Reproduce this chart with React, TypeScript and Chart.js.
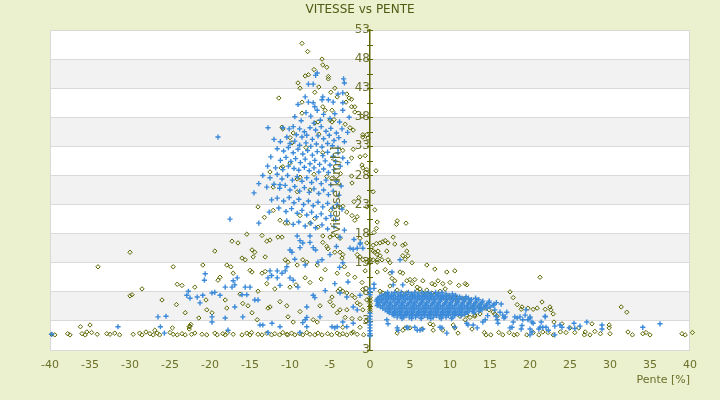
import { useEffect, useRef } from 'react';
import { Chart, registerables } from 'chart.js';

Chart.register(...registerables);

type P = [number, number];

// y tick labels, bottom to top (the bottom one reads "3" in the original too)
const yTickLabels = ['3', '3', '8', '13', '18', '23', '28', '33', '38', '43', '48', '53'];

// olive series: "low" speeds along the floor
const oliveFloor: P[] = [
  [-45.6, 0.7], [-43.5, 0.8], [-42.3, 0.7], [-42.1, 0.9], [-41.0, 0.6], [-40.9, 0.8], [-39.8, 0.7], [-39.4, 0.6],
  [-37.8, 0.8], [-37.5, 0.6], [-36.0, 0.8], [-35.6, 0.6], [-34.8, 1.0], [-34.1, 0.7], [-32.9, 0.8], [-32.5, 0.7],
  [-31.9, 0.9], [-31.3, 0.6], [-29.6, 0.7], [-28.8, 0.9], [-28.5, 0.6], [-27.5, 0.8], [-27.1, 0.6], [-26.6, 0.9],
  [-26.3, 0.6], [-25.0, 1.0], [-24.6, 0.7], [-24.1, 0.6], [-23.5, 0.8], [-23.1, 0.6], [-22.3, 0.7], [-21.9, 0.9],
  [-21.0, 0.7], [-20.4, 0.6], [-19.4, 0.9], [-19.1, 0.6], [-18.4, 0.8], [-18.1, 0.6], [-17.8, 1.0], [-17.1, 0.7],
  [-16.0, 0.6], [-15.4, 0.9], [-15.0, 0.6], [-14.8, 1.0], [-14.0, 0.7], [-13.5, 0.6], [-12.9, 0.9], [-12.3, 0.6],
  [-11.9, 0.8], [-11.3, 0.6], [-10.9, 1.0], [-10.4, 0.7], [-10.3, 0.6], [-9.8, 0.9], [-9.4, 0.6], [-8.8, 0.8],
  [-8.4, 0.6], [-7.9, 1.0], [-7.5, 0.7], [-6.9, 0.6], [-6.5, 0.9], [-6.0, 0.6], [-5.3, 0.8], [-4.8, 0.6],
  [-4.1, 0.9], [-3.8, 0.6], [-3.4, 0.8], [-2.9, 0.6], [-2.3, 0.9], [-1.6, 0.7], [-0.8, 0.6],
  [14.3, 1.0], [14.5, 0.6], [15.1, 0.6], [16.1, 1.0], [16.6, 0.6], [17.4, 1.0], [18.0, 0.6], [18.4, 0.7],
  [19.6, 0.6], [20.4, 1.0], [21.1, 0.6], [22.9, 0.6], [23.8, 1.1], [24.5, 1.0], [25.6, 1.0], [26.8, 0.6],
  [27.5, 0.6], [28.8, 0.8], [30.0, 0.8], [32.8, 0.6], [34.1, 0.8], [34.5, 1.0], [35.0, 0.6], [39.0, 0.8],
  [39.4, 0.6], [40.3, 1.0], [40.8, 0.8], [41.5, 0.8], [42.0, 0.6], [42.6, 0.6], [43.4, 0.8], [43.9, 0.6],
];

const oliveDownhill: P[] = [
  [-8.5, 50.7], [-7.8, 49.3], [-6.0, 48.0], [-5.9, 47.0], [-5.4, 46.6], [-7.0, 46.2], [-8.1, 45.1], [-7.7, 45.3],
  [-5.2, 45.0], [-5.2, 44.6], [-9.0, 43.9], [-8.75, 43.0], [-6.9, 42.3], [-6.4, 43.2], [-11.4, 41.3], [-8.5, 40.6],
  [-4.9, 42.3], [-4.4, 43.0], [-4.1, 41.5], [-2.9, 42.0], [-2.6, 41.3], [-2.3, 41.1], [-3.0, 40.6], [-2.3, 39.8],
  [-1.9, 39.8], [-1.9, 38.9], [-8.5, 38.7], [-5.9, 39.8], [-5.6, 39.2], [-4.75, 39.2], [-6.5, 37.2], [-6.9, 37.0],
  [-5.0, 37.5], [-4.75, 37.2], [-4.5, 37.6], [-11.0, 36.3], [-10.9, 36.0], [-9.6, 35.3], [-2.5, 36.2], [-2.1, 35.8],
  [-0.9, 35.0], [-0.4, 35.0], [-0.25, 34.4], [-0.9, 34.6], [-10.0, 34.5], [-9.75, 33.6], [-2.1, 32.5], [-2.3, 31.0],
  [-1.25, 31.2], [-0.6, 31.4], [-10.9, 29.5], [-11.1, 29.3], [-10.0, 30.1], [-1.0, 29.8], [-0.9, 29.3], [-0.4, 29.0],
  [0.75, 28.8], [-5.4, 27.8], [-4.75, 27.5], [-2.3, 27.9], [-9.1, 27.4], [-8.75, 27.7], [-9.1, 25.2], [-7.5, 25.5],
  [-4.1, 26.9], [-2.25, 26.7], [-3.75, 22.5], [-3.4, 22.7], [-2.9, 21.7], [-2.25, 21.1], [-1.6, 20.9], [0.4, 25.2],
  [0.9, 20.0], [-11.25, 20.3], [-10.6, 19.8], [-8.75, 21.1], [-12.1, 22.0], [-10.25, 19.8], [-6.9, 20.6], [-6.5, 19.1],
  [-5.9, 17.6], [-7.5, 19.8], [-1.25, 17.2], [-0.4, 16.4], [-4.6, 17.8], [-5.0, 17.4], [-4.1, 17.6], [-3.75, 17.2],
  [-19.4, 15.0], [-15.4, 17.9], [-13.5, 17.7], [-17.25, 16.7], [-16.5, 16.4], [-14.75, 15.2], [-14.4, 14.8], [-12.9, 16.7],
  [-12.5, 16.9], [-11.5, 17.4], [-11.0, 17.4], [-16.0, 13.8], [-15.6, 13.5], [-14.6, 14.0], [-13.1, 14.0], [-10.6, 13.5],
  [-10.25, 13.1], [-9.1, 12.6], [-8.4, 13.5], [-7.9, 13.1], [-6.6, 12.6], [-4.4, 14.8], [-5.4, 15.8], [-5.25, 15.4],
  [-5.9, 16.5], [-3.75, 14.8], [-3.4, 14.4], [-3.5, 13.8], [-1.6, 14.4], [-1.25, 14.0], [-0.9, 13.5], [-0.4, 13.1],
  [0.4, 15.0], [0.6, 14.8], [0.9, 14.4], [0.4, 13.5], [0.9, 13.1], [-1.9, 20.3], [-4.9, 22.0], [-3.4, 32.3],
  [-3.1, 36.8], [-1.0, 38.2], [-12.1, 26.0], [-12.5, 28.6], [-7.0, 28.2], [-5.9, 31.9], [-6.4, 35.1], [-8.0, 32.8],
  [-3.7, 28.3], [-1.4, 24.2], [-2.0, 23.5], [-0.4, 22.6], [0.5, 18.2], [-13.2, 20.8], [-14.0, 22.6],
  [-34.0, 12.3], [-30.0, 14.8], [-24.6, 12.3], [-28.5, 8.5], [-29.75, 7.5], [-24.1, 9.3], [-20.9, 12.6], [-20.5, 6.6],
  [-22.5, 2.1], [-36.2, 2.0], [-35.0, 2.3], [-35.4, 1.1], [-24.7, 1.8], [-22.6, 1.6], [-28.0, 1.1], [-26.9, 1.4],
  [-22.6, 2.0], [-22.4, 2.4], [-30.0, 7.3], [-18.75, 10.5], [-19.0, 10.0], [-17.1, 11.2], [-15.0, 11.7], [-14.75, 11.4],
  [-13.5, 11.2], [-13.1, 11.5], [-17.9, 12.6], [-17.4, 12.3], [-20.4, 4.9], [-19.75, 4.4], [-17.9, 5.2], [-15.9, 6.0],
  [-15.25, 5.6], [-14.1, 3.2], [-14.75, 4.4], [-12.5, 5.4], [-12.75, 5.2], [-11.25, 6.3], [-10.4, 5.6], [-10.25, 3.7],
  [-8.75, 4.6], [-9.6, 2.8], [-7.1, 3.2], [-6.6, 2.8], [-6.25, 5.6], [-5.0, 6.3], [-4.6, 5.6], [-4.1, 4.4],
  [-3.75, 4.9], [-4.75, 7.1], [-4.0, 8.1], [-3.75, 8.5], [-3.4, 8.1], [-2.9, 7.8], [-2.25, 7.4], [-1.9, 7.0],
  [-1.6, 6.1], [-1.25, 5.8], [-0.9, 4.9], [-2.9, 4.9], [-3.1, 3.6], [-2.25, 3.4], [-1.25, 3.4], [-3.4, 1.9],
  [-2.1, 1.1], [-1.25, 1.9], [-5.6, 11.8], [-6.1, 10.2], [-7.5, 9.6], [-8.1, 10.4], [-9.25, 9.2], [-10.0, 8.8],
  [-11.9, 8.5], [-12.9, 9.4], [-14.0, 8.1], [-16.25, 7.6], [-18.1, 6.6], [-21.4, 3.5], [-23.1, 4.4], [-24.2, 5.8],
  [-26.0, 6.6], [-23.5, 9.1], [-21.9, 8.8], [-1.9, 10.5], [-1.0, 9.6], [-2.75, 11.0], [-4.1, 11.2], [-3.2, 12.3],
  [-0.6, 11.6], [-0.9, 8.4], [-0.4, 6.6], [-0.5, 3.0],
  [0, 7.0], [0, 6.5], [0, 6.0], [0, 5.5], [0, 5.0], [0, 4.6], [0, 13.0], [0, 13.6],
];

const oliveUphill: P[] = [
  [0.8, 18.9], [3.3, 19.6], [4.5, 19.8], [0.4, 16.0], [0.8, 16.3], [1.25, 16.4], [1.6, 16.6], [1.9, 16.8],
  [2.25, 16.4], [2.9, 17.4], [3.1, 16.2], [4.1, 16.0], [4.4, 16.2], [4.6, 15.0], [4.75, 14.2], [1.0, 15.0],
  [2.1, 15.0], [1.25, 14.2], [1.5, 13.5], [2.25, 13.5], [2.5, 13.0], [0.9, 13.5], [4.1, 14.2], [4.4, 13.6],
  [5.25, 13.0], [7.1, 12.6], [8.1, 11.9], [9.6, 11.4], [10.6, 11.6], [0.9, 11.4], [1.9, 11.8], [2.5, 11.2],
  [3.75, 11.4], [4.1, 11.2], [2.75, 10.3], [3.1, 9.9], [4.6, 9.9], [5.0, 10.1], [5.25, 9.4], [5.6, 10.1],
  [6.6, 9.9], [5.9, 8.8], [6.25, 8.5], [7.75, 9.4], [8.1, 9.2], [8.5, 9.9], [9.1, 9.4], [9.4, 8.5],
  [7.75, 7.8], [7.25, 7.5], [10.0, 9.6], [11.1, 9.1], [11.9, 9.4], [12.1, 9.2], [8.75, 8.1], [1.25, 8.1],
  [1.6, 7.8], [2.1, 7.4], [2.5, 9.0], [3.4, 8.3], [4.0, 7.8], [4.6, 7.8], [5.25, 7.4], [5.9, 8.1],
  [6.6, 7.8], [7.1, 8.3], [8.1, 7.4], [9.6, 7.4], [10.0, 6.9], [10.6, 7.1], [10.9, 6.4], [11.6, 6.8],
  [12.4, 6.1], [12.9, 5.2], [13.4, 5.8], [13.75, 5.2], [14.4, 5.2], [14.9, 4.9], [15.4, 4.5], [15.6, 4.2],
  [15.9, 3.8], [17.5, 8.0], [17.9, 7.0], [18.4, 5.8], [19.0, 5.4], [19.75, 5.2], [21.25, 10.5], [21.5, 6.25],
  [21.9, 5.0], [22.5, 5.4], [22.6, 4.9], [22.9, 4.2], [20.4, 5.0], [20.9, 5.2], [18.9, 5.0], [12.1, 4.0],
  [12.5, 3.6], [13.1, 4.0], [13.75, 4.2], [13.1, 3.8], [11.25, 3.8], [11.9, 3.2], [7.5, 2.5], [7.9, 2.3],
  [10.4, 2.3], [10.6, 1.8], [5.0, 1.8], [4.1, 1.4], [4.4, 1.8], [3.4, 0.9], [9.1, 1.4], [7.9, 1.4],
  [6.5, 1.6], [11.0, 0.9], [12.75, 1.6], [31.4, 5.4], [32.1, 4.5], [23.0, 2.8], [24.0, 2.5], [25.0, 1.8],
  [26.1, 1.8], [27.75, 2.5], [29.9, 2.3], [29.9, 1.8], [32.25, 1.1], [26.9, 1.1], [28.1, 1.2], [22.25, 1.0],
  [21.6, 1.1], [3.4, 20.2], [0.6, 22.1],
];

// blue series
const blueDownhill: P[] = [
  [-6.6, 45.6], [-6.8, 45.2], [-3.3, 44.6], [-3.2, 43.9], [-7.7, 43.7], [-7.1, 43.7], [-3.4, 42.2], [-8.1, 41.5],
  [-6.0, 41.0], [-5.9, 41.5], [-5.2, 41.0], [-4.6, 40.6], [-7.7, 40.6], [-7.1, 40.5], [-3.4, 40.5], [-9.0, 40.2],
  [-4.0, 42.0], [-3.4, 39.2], [-6.9, 39.8], [-6.6, 39.2], [-8.0, 38.8], [-7.4, 38.2], [-5.8, 38.5], [-5.0, 37.8],
  [-4.4, 38.6], [-6.2, 37.5], [-8.6, 37.4], [-9.4, 38.1], [-7.0, 37.0], [-3.8, 37.2], [-2.6, 38.0], [-10.9, 36.2],
  [-10.1, 36.0], [-12.75, 36.2], [-19.0, 34.6], [-9.6, 36.4], [-8.8, 36.0], [-8.2, 35.5], [-7.5, 36.2], [-6.8, 35.8],
  [-6.1, 36.4], [-5.5, 35.6], [-4.9, 36.1], [-4.2, 35.3], [-3.5, 36.0], [-9.2, 35.0], [-8.5, 34.6], [-7.9, 34.9],
  [-7.2, 34.2], [-6.5, 34.8], [-5.8, 34.3], [-5.1, 34.9], [-4.5, 34.0], [-3.9, 34.5], [-10.4, 34.6], [-11.2, 33.8],
  [-10.0, 33.5], [-9.4, 33.9], [-8.8, 33.2], [-8.0, 33.6], [-7.4, 33.0], [-6.7, 33.4], [-6.0, 32.9], [-5.3, 33.5],
  [-4.7, 33.1], [-4.0, 32.7], [-12.0, 34.2], [-3.2, 33.8], [-2.8, 35.4], [-11.6, 32.6], [-10.8, 32.2], [-10.2, 32.8],
  [-9.6, 31.9], [-9.0, 32.5], [-8.4, 31.7], [-7.8, 32.3], [-7.2, 31.5], [-6.6, 32.1], [-5.9, 31.4], [-5.3, 32.0],
  [-4.6, 31.3], [-4.0, 31.9], [-3.4, 31.0], [-12.4, 31.2], [-11.2, 30.6], [-10.5, 31.1], [-9.9, 30.4], [-9.3, 30.9],
  [-8.7, 30.2], [-8.1, 30.8], [-7.5, 30.0], [-6.9, 30.6], [-6.3, 29.9], [-5.6, 30.5], [-5.0, 29.8], [-4.3, 30.4],
  [-3.7, 29.6], [-12.8, 29.6], [-11.8, 29.3], [-10.9, 29.0], [-10.2, 29.6], [-9.5, 29.2], [-8.9, 28.9], [-8.2, 29.4],
  [-7.6, 28.8], [-7.0, 29.3], [-6.4, 28.6], [-5.8, 29.1], [-5.2, 28.5], [-4.5, 29.0], [-2.8, 30.2], [-13.4, 28.0],
  [-12.5, 27.6], [-11.6, 28.2], [-11.0, 27.4], [-10.3, 28.0], [-9.7, 27.2], [-9.1, 27.8], [-8.5, 27.0], [-7.9, 27.6],
  [-7.3, 26.8], [-6.7, 27.4], [-6.1, 26.6], [-5.5, 27.2], [-4.9, 26.4], [-4.2, 27.0], [-3.6, 26.2], [-13.9, 26.6],
  [-12.9, 26.0], [-12.0, 26.5], [-11.3, 25.8], [-10.6, 26.3], [-10.0, 25.5], [-9.4, 26.1], [-8.8, 25.3], [-8.2, 25.9],
  [-7.6, 25.1], [-7.0, 25.7], [-6.4, 24.9], [-5.8, 25.5], [-5.2, 24.7], [-4.6, 25.3], [-3.9, 24.6], [-14.5, 25.0],
  [-12.3, 23.8], [-11.6, 24.1], [-11.25, 26.4], [-12.6, 21.7], [-10.8, 23.6], [-10.1, 24.2], [-9.5, 23.3], [-8.9, 23.9],
  [-8.3, 23.0], [-7.7, 23.6], [-7.1, 22.8], [-6.5, 23.4], [-5.9, 22.6], [-5.3, 23.2], [-4.7, 22.4], [-4.1, 23.0],
  [-3.5, 22.2], [-11.4, 22.4], [-10.5, 21.8], [-9.8, 22.3], [-9.1, 21.5], [-8.5, 22.0], [-7.9, 21.2], [-7.3, 21.7],
  [-6.7, 20.9], [-6.1, 21.4], [-5.5, 20.6], [-4.9, 21.1], [-4.3, 20.4], [-17.5, 20.5], [-13.9, 19.8], [-10.4, 20.2],
  [-9.6, 19.6], [-8.9, 20.0], [-8.1, 19.3], [-7.4, 19.8], [-6.8, 19.0], [-6.0, 19.5], [-5.3, 18.8], [-4.5, 19.2],
  [-3.2, 18.6], [-9.1, 17.6], [-8.75, 16.8], [-7.5, 17.6], [-3.75, 17.4], [-2.0, 17.0], [-1.2, 16.4], [-9.75, 14.8],
  [-10.0, 15.2], [-8.75, 15.6], [-8.4, 16.4], [-7.5, 16.5], [-7.1, 15.6], [-6.8, 15.2], [-6.5, 13.1], [-6.0, 13.5],
  [-3.4, 13.0], [-2.5, 15.5], [-2.1, 15.3], [-1.6, 15.5], [-1.25, 16.2], [-0.9, 15.5], [-5.0, 14.4], [-4.2, 15.8],
  [-20.6, 11.1], [-20.7, 10.0], [-20.9, 7.4], [-21.25, 6.1], [-21.6, 7.1], [-22.5, 6.9], [-22.9, 7.4], [-22.7, 8.1],
  [-19.75, 7.8], [-19.4, 7.9], [-18.1, 8.8], [-17.25, 8.8], [-16.9, 9.2], [-18.75, 7.4], [-16.6, 10.4], [-17.1, 9.9],
  [-15.6, 8.8], [-15.0, 8.8], [-16.0, 7.5], [-15.4, 7.5], [-14.4, 6.6], [-14.0, 6.6], [-16.9, 5.4], [-15.9, 3.7],
  [-13.75, 2.3], [-13.4, 2.3], [-12.25, 2.6], [-17.75, 1.4], [-12.3, 10.8], [-12.5, 11.6], [-11.6, 11.6], [-11.0, 11.2],
  [-10.6, 11.6], [-12.75, 10.4], [-11.6, 10.4], [-10.4, 12.3], [-10.0, 10.4], [-11.25, 9.1], [-9.6, 10.0], [-9.0, 8.8],
  [-7.1, 7.4], [-6.9, 7.0], [-7.9, 5.4], [-6.25, 3.7], [-7.9, 2.0], [-8.75, 1.0], [-4.75, 2.0], [-4.4, 1.8],
  [-4.1, 2.0], [-3.4, 2.8], [-2.9, 2.0], [-2.1, 2.6], [-19.75, 3.7], [-19.75, 2.8], [-18.1, 3.5], [-11.25, 2.0],
  [-12.75, 1.0], [-2.1, 5.4], [-1.6, 4.9], [-1.25, 7.4], [-3.75, 7.8], [-2.75, 9.7], [-2.9, 7.1], [-26.5, 3.7],
  [-25.5, 3.8], [-26.2, 2.0], [-25.7, 0.9], [-31.5, 2.0], [-8.1, 12.6], [-9.4, 13.6], [-5.6, 8.2], [-4.4, 9.4],
  [-3.8, 12.2], [-8.1, 3.2], [-7.9, 3.6], [-8.4, 2.7], [-39.8, 0.7],
  [0, 8.5], [0, 8.0], [0, 7.5], [0, 4.3], [0, 3.8], [0, 3.3], [0, 2.8], [0, 2.3], [0, 1.8], [0, 1.3], [0, 0.8], [0, 0.4],
];

// dense uphill cloud, one row of slopes per speed
const blueCloudRows: [number, number[]][] = [
  [7.9, [2.2, 3.1, 3.9, 4.8, 5.6, 6.5, 7.3, 8.2, 9.0]],
  [7.65, [1.9, 2.7, 3.5, 4.4, 5.2, 6.0, 6.9, 7.7, 8.6, 9.5, 10.3]],
  [7.4, [1.5, 2.3, 3.0, 3.8, 4.5, 5.3, 6.1, 6.8, 7.6, 8.4, 9.1, 9.9, 10.7]],
  [7.15, [1.2, 2.0, 2.7, 3.5, 4.2, 5.0, 5.7, 6.5, 7.2, 8.0, 8.8, 9.5, 10.4, 11.2, 12.0]],
  [6.9, [1.0, 1.7, 2.5, 3.2, 4.0, 4.7, 5.5, 6.2, 7.0, 7.7, 8.5, 9.2, 10.0, 10.7, 11.5, 12.3, 13.2]],
  [6.65, [0.9, 1.4, 2.1, 2.9, 3.6, 4.4, 5.1, 5.9, 6.6, 7.4, 8.1, 8.9, 9.6, 10.4, 11.1, 11.9, 12.7, 13.6]],
  [6.4, [0.8, 1.5, 2.2, 3.0, 3.7, 4.4, 5.2, 5.9, 6.6, 7.4, 8.1, 8.8, 9.6, 10.3, 11.0, 11.8, 12.5, 13.3, 14.1, 14.9]],
  [6.15, [1.2, 1.9, 2.6, 3.4, 4.1, 4.9, 5.6, 6.4, 7.1, 7.9, 8.6, 9.4, 10.1, 10.9, 11.6, 12.4, 13.2, 14.0, 14.9, 15.8]],
  [5.9, [1.0, 1.8, 2.5, 3.3, 4.0, 4.8, 5.5, 6.3, 7.0, 7.8, 8.5, 9.3, 10.0, 10.8, 11.5, 12.3, 13.0, 13.8, 14.6, 15.5, 16.4]],
  [5.65, [0.9, 1.6, 2.4, 3.1, 3.9, 4.6, 5.4, 6.1, 6.9, 7.6, 8.4, 9.1, 9.9, 10.6, 11.4, 12.1, 12.9, 13.7, 14.5, 15.4]],
  [5.4, [1.3, 2.1, 2.8, 3.6, 4.3, 5.1, 5.8, 6.6, 7.3, 8.1, 8.8, 9.6, 10.3, 11.1, 11.8, 12.6, 13.4, 14.2, 15.0]],
  [5.15, [1.6, 2.4, 3.1, 3.9, 4.6, 5.4, 6.1, 6.9, 7.6, 8.4, 9.1, 9.9, 10.6, 11.4, 12.2, 13.0, 13.8, 14.6]],
  [4.9, [1.9, 2.6, 3.4, 4.1, 4.9, 5.6, 6.4, 7.1, 7.9, 8.6, 9.4, 10.1, 10.9, 11.6, 12.4, 13.1, 14.0]],
  [4.65, [2.2, 3.0, 3.7, 4.5, 5.2, 6.0, 6.7, 7.5, 8.2, 9.0, 9.7, 10.5, 11.2, 12.0, 12.8, 13.6]],
  [4.4, [2.4, 3.2, 3.9, 4.7, 5.4, 6.2, 6.9, 7.7, 8.4, 9.2, 9.9, 10.7, 11.4, 12.2, 13.0]],
  [4.15, [2.8, 3.5, 4.3, 5.0, 5.8, 6.5, 7.3, 8.0, 8.8, 9.5, 10.3, 11.0, 11.8]],
  [3.9, [3.0, 3.8, 4.5, 5.3, 6.0, 6.8, 7.5, 8.3, 9.1, 9.8, 10.6, 11.4]],
  [3.65, [3.4, 4.2, 4.9, 5.7, 6.4, 7.2, 7.9, 8.7, 9.5, 10.3]],
  [3.4, [4.0, 5.2, 6.4, 7.6, 8.9, 10.2]],
];

const blueUphill: P[] = [
  [2.1, 3.2], [2.25, 2.5], [3.4, 1.8], [3.5, 1.4], [4.6, 1.9], [4.75, 1.8], [5.6, 1.9], [5.9, 1.4],
  [6.25, 1.4], [6.6, 1.6], [8.75, 1.9], [9.0, 1.8], [9.6, 0.9], [10.6, 1.9], [12.1, 2.6], [12.25, 2.3],
  [12.9, 2.3], [13.4, 1.8], [14.4, 3.2], [14.1, 2.8], [15.9, 3.2], [16.0, 2.6], [16.6, 4.0], [16.9, 3.7],
  [17.5, 1.8], [18.4, 3.5], [18.75, 3.7], [19.1, 3.2], [20.0, 3.5], [20.4, 2.6], [21.9, 3.7], [21.25, 1.9],
  [0.5, 9.3], [0.5, 8.6], [2.75, 11.4], [3.75, 13.5], [4.1, 9.2], [2.9, 9.2], [15.75, 3.8], [16.25, 4.5],
  [16.75, 3.5], [17.9, 2.8], [17.75, 1.9], [18.1, 3.7], [19.0, 2.2], [19.75, 3.2], [20.0, 3.7], [20.25, 2.8],
  [20.25, 1.1], [21.6, 1.9], [22.0, 1.9], [21.4, 2.8], [21.9, 3.8], [23.75, 2.3], [24.0, 1.9], [24.9, 1.8],
  [25.5, 2.6], [27.1, 2.8], [29.0, 2.3], [29.0, 1.6], [34.1, 1.9], [36.25, 2.5], [42.9, 0.6], [23.1, 2.1],
  [21.1, 1.6], [19.4, 4.0], [17.1, 4.5], [15.6, 4.9], [14.7, 3.9], [19.5, 4.9], [18.9, 1.6], [20.0, 1.6],
  [22.3, 1.4], [26.25, 2.1], [25.6, 1.7], [20.0, 0.6], [23.1, 0.6],
];

const olivePoints = [...oliveFloor, ...oliveDownhill, ...oliveUphill].map(([x, y]) => ({ x, y }));
const bluePoints = [
  ...blueDownhill,
  ...blueCloudRows.flatMap(([y, xs]) => xs.map((x) => [x, y] as P)),
  ...blueUphill,
].map(([x, y]) => ({ x, y }));

const OLIVE = '#5c6600';
const TEXT = '#6b6f2a';
const FONT = '"DejaVu Sans", Verdana, sans-serif';

const decor = {
  id: 'decor',
  beforeDraw(chart: any) {
    const { ctx, chartArea: a, scales } = chart;
    const y = scales.y;
    ctx.save();
    ctx.fillStyle = '#ebf1ce';
    ctx.fillRect(0, 0, chart.width, chart.height);
    ctx.fillStyle = '#ffffff';
    ctx.fillRect(a.left, a.top, a.right - a.left, a.bottom - a.top);
    ctx.fillStyle = '#f2f2f2';
    const ticks = y.ticks;
    for (let i = 1; i < ticks.length - 1; i += 2) {
      const b = y.getPixelForValue(ticks[i].value);
      const t = y.getPixelForValue(ticks[i + 1].value);
      ctx.fillRect(a.left, t, a.right - a.left, b - t);
    }
    ctx.restore();
  },
  beforeDatasetsDraw(chart: any) {
    const { ctx, chartArea: a, scales } = chart;
    ctx.save();
    ctx.strokeStyle = '#d9d9d9';
    ctx.lineWidth = 1;
    ctx.strokeRect(a.left + 0.5, a.top + 0.5, a.right - a.left - 1, a.bottom - a.top);
    // tick marks crossing the vertical axis
    const x0 = Math.round(scales.x.getPixelForValue(0));
    ctx.strokeStyle = OLIVE;
    for (let v = -2; v <= 53; v += 2.5) {
      const py = Math.round(scales.y.getPixelForValue(v)) + 0.5;
      ctx.beginPath();
      ctx.moveTo(x0 - 3, py);
      ctx.lineTo(x0 + 3, py);
      ctx.stroke();
    }
    ctx.restore();
  },
  afterDraw(chart: any) {
    const { ctx, chartArea: a } = chart;
    ctx.save();
    ctx.fillStyle = '#4f5a12';
    ctx.font = `12px ${FONT}`;
    ctx.textAlign = 'center';
    ctx.textBaseline = 'middle';
    ctx.fillText('VITESSE vs PENTE', chart.width / 2, 10);
    ctx.fillStyle = TEXT;
    ctx.translate(337, (a.top + a.bottom) / 2);
    ctx.rotate(-Math.PI / 2);
    ctx.fillText('Vitesse [km/h]', 0, 0);
    ctx.restore();
  },
};

export default function App() {
  const canvasRef = useRef<HTMLCanvasElement>(null);

  useEffect(() => {
    document.body.style.margin = '0';
    if (!canvasRef.current) return;
    const chart = new Chart(canvasRef.current, {
      type: 'scatter',
      data: {
        datasets: [
          {
            label: 'bleu',
            data: bluePoints,
            pointStyle: 'cross',
            pointRadius: 2.6,
            borderColor: '#3b8ad9',
            backgroundColor: '#3b8ad9',
            borderWidth: 1.4,
            clip: false,
          },
          {
            label: 'olive',
            data: olivePoints,
            pointStyle: 'rectRot',
            pointRadius: 2.2,
            borderColor: OLIVE,
            backgroundColor: 'rgba(255,255,255,0)',
            borderWidth: 1,
            clip: false,
          },
        ],
      },
      options: {
        animation: false,
        responsive: true,
        maintainAspectRatio: false,
        events: [],
        layout: { padding: { left: 50, right: 30, top: 30, bottom: 0 } },
        plugins: { legend: { display: false }, tooltip: { enabled: false } },
        scales: {
          x: {
            type: 'linear',
            min: -40,
            max: 40,
            afterFit: (s: any) => { s.height = 50; },
            grid: { display: false, drawTicks: false },
            border: { display: false },
            ticks: { stepSize: 5, padding: 9, color: TEXT, font: { family: FONT, size: 11 } },
            title: {
              display: true,
              text: 'Pente [%]',
              align: 'end',
              color: TEXT,
              font: { family: FONT, size: 11 },
              padding: { top: 0, bottom: 13 },
            },
          },
          y: {
            type: 'linear',
            position: { x: 0 },
            min: -2,
            max: 53,
            grid: { color: '#d9d9d9', lineWidth: 1, drawTicks: false },
            border: { display: true, color: OLIVE, width: 1.5 },
            ticks: {
              stepSize: 5,
              padding: 5,
              color: TEXT,
              font: { family: FONT, size: 12 },
              callback: (_v: any, i: number) => yTickLabels[i],
            },
          },
        },
      },
      plugins: [decor],
    });
    return () => chart.destroy();
  }, []);

  return (
    <div style={{ position: 'relative', width: 720, height: 400 }}>
      <canvas ref={canvasRef} />
    </div>
  );
}
